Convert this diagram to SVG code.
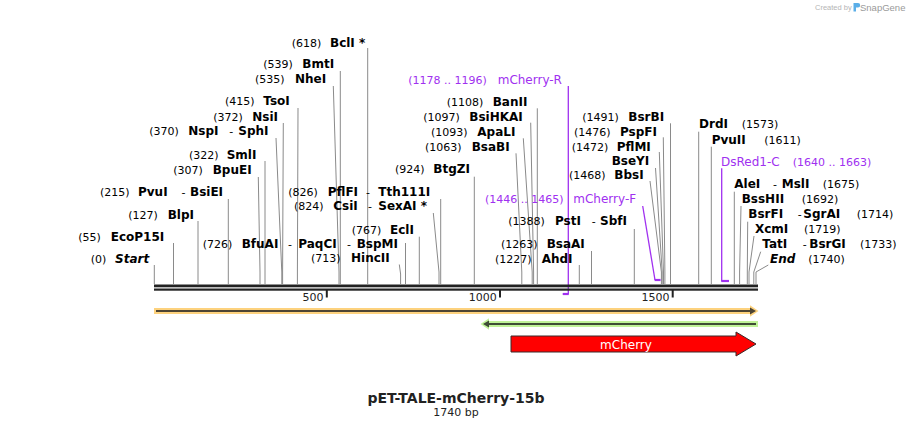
<svg xmlns="http://www.w3.org/2000/svg" width="912" height="429" viewBox="0 0 912 429">
<style>
text{font-family:"DejaVu Sans",Verdana,sans-serif;fill:#000}
.n{font-size:11px}
.b{font-size:12px;font-weight:bold}
.bi{font-size:12px;font-weight:bold;font-style:italic}
.pn{font-size:11px;fill:#a030f0}
.pb{font-size:12px;fill:#a030f0}
.cl{fill:none;stroke:#8a8a8a;stroke-width:1}
.pl{fill:none;stroke:#a030f0;stroke-width:1.3}
.pm{fill:none;stroke:#a030f0;stroke-width:2.2}
.tk{fill:#222}
.sc{font-size:11px;fill:#222;text-anchor:end}
</style>
<rect width="912" height="429" fill="#fff"/>

<g id="logo">
<text x="815" y="10" style="font-family:'Liberation Sans',Arial,sans-serif;font-size:7.5px;fill:#b5b5b5">Created by</text>
<path d="M853.5 3 h4.5 a2.2 2.2 0 0 1 0 4.4 h-2 v4.2 h-2.5 z" fill="#5aaee8"/>
<text x="860" y="11" style="font-family:'Liberation Sans',Arial,sans-serif;font-size:9.5px;fill:#9a9a9a">SnapGene</text>
</g>

<g id="connectors">
<path class="cl" d="M154.3 265V284"/>
<path class="cl" d="M173.5 243V284"/>
<path class="cl" d="M198 221V284"/>
<path class="cl" d="M228.3 199V284"/>
<path class="cl" d="M258.3 177L260 272V284"/>
<path class="cl" d="M265 161V284"/>
<path class="cl" d="M276 138L281.8 272V284"/>
<path class="cl" d="M283.3 123L282.6 272V284"/>
<path class="cl" d="M298 108L297.4 272V284"/>
<path class="cl" d="M333.3 86L339 272V284"/>
<path class="cl" d="M340.3 71V284"/>
<path class="cl" d="M367.7 48V284"/>
<path class="cl" d="M399.3 264.5L400.6 274V284"/>
<path class="cl" d="M405.5 243V284"/>
<path class="cl" d="M419.3 236.7V284"/>
<path class="cl" d="M433.3 213L439 272V284"/>
<path class="cl" d="M440.7 199V284"/>
<path class="cl" d="M474.3 176.7V284"/>
<path class="cl" d="M516 153.3L521.8 272V284"/>
<path class="cl" d="M523.3 138.3L532.2 272V284"/>
<path class="cl" d="M530.7 122.7L533.6 272V284"/>
<path class="cl" d="M537.3 108.3V284"/>
<path class="cl" d="M579.3 265V284"/>
<path class="cl" d="M591.5 251V284"/>
<path class="cl" d="M634.3 229V284"/>
<path class="cl" d="M650 181L661.4 272V284"/>
<path class="cl" d="M655.5 168L662.2 272V284"/>
<path class="cl" d="M659.3 152L663.5 272V284"/>
<path class="cl" d="M663.3 137.3L664.9 272V284"/>
<path class="cl" d="M670.5 123.3V284"/>
<path class="cl" d="M698.7 131.7V284"/>
<path class="cl" d="M711.3 146.7V284"/>
<path class="cl" d="M734.3 191.7V284"/>
<path class="cl" d="M741 206L739.6 272V284"/>
<path class="cl" d="M747.7 221.7L747.3 272V284"/>
<path class="cl" d="M754 236L749 272V284"/>
<path class="cl" d="M760.7 251.7L753.8 272V284"/>
<path class="cl" d="M768.3 265L756 272V284"/>
<path class="pl" d="M568.3 86V294"/>
<path class="pm" d="M562.7 294H568.8"/>
<path class="pl" d="M642.7 206L655 280"/>
<path class="pm" d="M654.6 280H660.6"/>
<path class="pl" d="M721.7 168.3V281"/>
<path class="pm" d="M721.2 281H729"/>
</g>

<g id="sequence">
<rect x="154" y="284.5" width="604" height="2.8" fill="#222"/>
<rect x="154" y="288.5" width="604" height="2.2" fill="#222"/>
<rect class="tk" x="325.8" y="290" width="2" height="7.5"/>
<rect class="tk" x="499" y="290" width="2" height="7.5"/>
<rect class="tk" x="671.7" y="290" width="2" height="7.5"/>
<text class="sc" x="323.5" y="301">500</text>
<text class="sc" x="496.8" y="301">1000</text>
<text class="sc" x="669.5" y="301">1500</text>
</g>

<g id="s0"><text class="n" x="90.7" y="263">(0)</text><text class="bi" x="115" y="263">Start</text></g>
<g id="s55"><text class="n" x="78.3" y="241">(55)</text><text class="b" x="110.7" y="241">EcoP15I</text></g>
<g id="s127"><text class="n" x="128.3" y="219">(127)</text><text class="b" x="167.7" y="219">BlpI</text></g>
<g id="s215"><text class="n" x="100" y="196">(215)</text><text class="b" x="138" y="196">PvuI</text><text class="n" x="181.5" y="196">-</text><text class="b" x="190" y="196">BsiEI</text></g>
<g id="s307"><text class="n" x="173.3" y="174">(307)</text><text class="b" x="212.7" y="174">BpuEI</text></g>
<g id="s322"><text class="n" x="189" y="158.5">(322)</text><text class="b" x="226.7" y="158.5">SmlI</text></g>
<g id="s370"><text class="n" x="149.3" y="135">(370)</text><text class="b" x="188.3" y="135">NspI</text><text class="n" x="229.3" y="135">-</text><text class="b" x="238.3" y="135">SphI</text></g>
<g id="s372"><text class="n" x="213.3" y="120.7">(372)</text><text class="b" x="252.3" y="120.7">NsiI</text></g>
<g id="s415"><text class="n" x="225" y="105">(415)</text><text class="b" x="263.3" y="105">TsoI</text></g>
<g id="s535"><text class="n" x="255" y="83.3">(535)</text><text class="b" x="295" y="83.3">NheI</text></g>
<g id="s539"><text class="n" x="263.3" y="67.7">(539)</text><text class="b" x="302.3" y="67.7">BmtI</text></g>
<g id="s618"><text class="n" x="291.7" y="46.7">(618)</text><text class="b" x="330" y="46.7">BclI *</text></g>
<g id="s713"><text class="n" x="311" y="262">(713)</text><text class="b" x="351" y="262">HincII</text></g>
<g id="s726"><text class="n" x="202.7" y="247.7">(726)</text><text class="b" x="241.7" y="247.7">BfuAI</text><text class="n" x="288" y="247.7">-</text><text class="b" x="298.3" y="247.7">PaqCI</text><text class="n" x="347" y="247.7">-</text><text class="b" x="356.7" y="247.7">BspMI</text></g>
<g id="s767"><text class="n" x="351.7" y="234">(767)</text><text class="b" x="390" y="234">EclI</text></g>
<g id="s824"><text class="n" x="294" y="209.5">(824)</text><text class="b" x="333.3" y="209.5">CsiI</text><text class="n" x="368" y="209.5">-</text><text class="b" x="378.3" y="209.5">SexAI *</text></g>
<g id="s826"><text class="n" x="288.3" y="196">(826)</text><text class="b" x="327.7" y="196">PflFI</text><text class="n" x="366" y="196">-</text><text class="b" x="378.3" y="196">Tth111I</text></g>
<g id="s924"><text class="n" x="395" y="173.3">(924)</text><text class="b" x="433.3" y="173.3">BtgZI</text></g>
<g id="s1063"><text class="n" x="425" y="150.7">(1063)</text><text class="b" x="471.7" y="150.7">BsaBI</text></g>
<g id="s1093"><text class="n" x="431" y="136">(1093)</text><text class="b" x="477.3" y="136">ApaLI</text></g>
<g id="s1097"><text class="n" x="423.3" y="121">(1097)</text><text class="b" x="469.3" y="121">BsiHKAI</text></g>
<g id="s1108"><text class="n" x="446.7" y="106">(1108)</text><text class="b" x="492.7" y="106">BanII</text></g>
<g id="mCherryR"><text class="pn" x="408.3" y="84">(1178 .. 1196)</text><text class="pb" x="497.7" y="84">mCherry-R</text></g>
<g id="s1227"><text class="n" x="495" y="262.7">(1227)</text><text class="b" x="541.7" y="262.7">AhdI</text></g>
<g id="s1263"><text class="n" x="501" y="248.3">(1263)</text><text class="b" x="546.7" y="248.3">BsaAI</text></g>
<g id="s1388"><text class="n" x="508.3" y="225">(1388)</text><text class="b" x="555" y="225">PstI</text><text class="n" x="591.7" y="225">-</text><text class="b" x="600" y="225">SbfI</text></g>
<g id="mCherryF"><text class="pn" x="485" y="203.3">(1446 .. 1465)</text><text class="pb" x="573.3" y="203.3">mCherry-F</text></g>
<g id="s1468"><text class="n" x="569" y="179.3">(1468)</text><text class="b" x="614.3" y="179.3">BbsI</text></g>
<g id="sBseYI"><text class="b" x="611.7" y="165">BseYI</text></g>
<g id="s1472"><text class="n" x="571.7" y="150.7">(1472)</text><text class="b" x="616.7" y="150.7">PflMI</text></g>
<g id="s1476"><text class="n" x="574" y="136">(1476)</text><text class="b" x="620" y="136">PspFI</text></g>
<g id="s1491"><text class="n" x="582.3" y="121">(1491)</text><text class="b" x="628.3" y="121">BsrBI</text></g>
<g id="s1573"><text class="b" x="699" y="128.3">DrdI</text><text class="n" x="741.7" y="128.3">(1573)</text></g>
<g id="s1611"><text class="b" x="711.7" y="144">PvuII</text><text class="n" x="764.3" y="144">(1611)</text></g>
<g id="DsRed1C"><text class="pb" x="721" y="165.7">DsRed1-C</text><text class="pn" x="792.7" y="165.7">(1640 .. 1663)</text></g>
<g id="s1675"><text class="b" x="734.3" y="188.3">AleI</text><text class="n" x="773" y="188.3">-</text><text class="b" x="781.7" y="188.3">MslI</text><text class="n" x="822.7" y="188.3">(1675)</text></g>
<g id="s1692"><text class="b" x="741.7" y="203.3">BssHII</text><text class="n" x="801.7" y="203.3">(1692)</text></g>
<g id="s1714"><text class="b" x="748.3" y="218.3">BsrFI</text><text class="n" x="797.7" y="218.3">-</text><text class="b" x="803.3" y="218.3">SgrAI</text><text class="n" x="856.7" y="218.3">(1714)</text></g>
<g id="s1719"><text class="b" x="755" y="233.3">XcmI</text><text class="n" x="804" y="233.3">(1719)</text></g>
<g id="s1733"><text class="b" x="762.3" y="248.3">TatI</text><text class="n" x="802.7" y="248.3">-</text><text class="b" x="809.3" y="248.3">BsrGI</text><text class="n" x="860" y="248.3">(1733)</text></g>
<g id="s1740"><text class="bi" x="770" y="263.3">End</text><text class="n" x="808.3" y="263.3">(1740)</text></g>

<g id="feature-orange">
<path d="M154 308H750V305.3L758.5 311L750 316.7V314H154Z" fill="#fdd27e"/>
<path d="M156 311H751" stroke="#4d4433" stroke-width="2.2"/>
<path d="M750 307.4L756 311L750 314.6Z" fill="#4d4433"/>
</g>
<g id="feature-green">
<path d="M758 321H489V318.3L480.5 324L489 329.7V327H758Z" fill="#c0f398"/>
<path d="M488 324H756" stroke="#3f4d36" stroke-width="2.2"/>
<path d="M483 324L489 320.4V327.6Z" fill="#3f4d36"/>
</g>
<g id="mCherry">
<path d="M511 336H736V332L756 344L736 356V352H511Z" fill="#ff0000" stroke="#3a2a2a" stroke-width="1"/>
<text x="626" y="348.5" text-anchor="middle" style="font-size:12px;fill:#fff">mCherry</text>
</g>

<g id="title">
<text x="456" y="403" text-anchor="middle" style="font-size:14px;font-weight:bold;fill:#222">pET-TALE-mCherry-15b</text>
<text x="456" y="416" text-anchor="middle" style="font-size:11px;fill:#222">1740 bp</text>
</g>
</svg>
